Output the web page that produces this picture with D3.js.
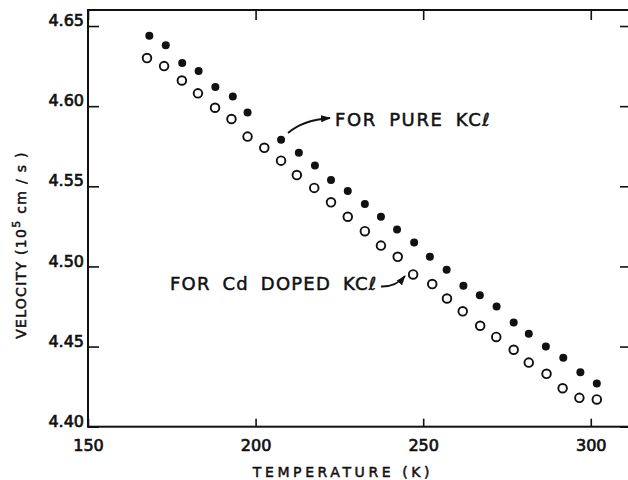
<!DOCTYPE html>
<html>
<head>
<meta charset="utf-8">
<script src="https://cdnjs.cloudflare.com/ajax/libs/d3/7.8.5/d3.min.js"></script>
<style>
  body { margin: 0; background: #fff; }
  svg { display: block; }
  text { font-family: "DejaVu Sans", sans-serif; fill: #111; stroke: #111; stroke-width: 0.5px; }
</style>
</head>
<body>
<div id="chart"></div>
<script>
// temperature (K) and velocity (10^5 cm/s)
const pureT = [168.3, 173.2, 178.1, 183.0, 188.0, 193.2, 197.6, 207.6, 212.9, 217.7, 222.5, 227.5, 232.6, 237.4, 242.2, 247.3, 252.0, 257.0, 262.0, 266.9, 271.9, 277.0, 281.5, 286.6, 291.8, 296.9, 301.8];
const pureV = [4.644, 4.638, 4.627, 4.622, 4.612, 4.606, 4.596, 4.579, 4.571, 4.563, 4.554, 4.547, 4.539, 4.531, 4.523, 4.515, 4.506, 4.498, 4.488, 4.482, 4.475, 4.465, 4.458, 4.450, 4.443, 4.434, 4.427];
const dopedT = [167.6, 172.7, 178.0, 182.8, 187.9, 192.8, 197.6, 202.6, 207.6, 212.3, 217.5, 222.5, 227.5, 232.6, 237.4, 242.4, 247.0, 252.7, 257.1, 261.8, 267.0, 271.8, 277.0, 281.5, 286.8, 291.6, 296.6, 301.8];
const dopedV = [4.630, 4.625, 4.616, 4.608, 4.599, 4.592, 4.581, 4.574, 4.566, 4.557, 4.549, 4.540, 4.531, 4.522, 4.513, 4.506, 4.495, 4.489, 4.480, 4.472, 4.463, 4.456, 4.448, 4.440, 4.433, 4.424, 4.418, 4.417];
const xTicks = [150, 200, 250, 300];
const yTicks = [4.40, 4.45, 4.50, 4.55, 4.60, 4.65];

const W = 628, H = 480;
const mLeft = 88, mRight = 631, mTop = 10, mBottom = 426.7;
const ink = "#111";

const svg = d3.select("#chart").append("svg")
    .attr("width", W)
    .attr("height", H);

const x = d3.scaleLinear().domain([150, 312]).range([mLeft, mRight]);
const y = d3.scaleLinear().domain([4.40, 4.66]).range([mBottom, mTop]);

svg.append("defs").append("marker")
    .attr("id", "head")
    .attr("viewBox", "0 0 10 8")
    .attr("refX", 9).attr("refY", 4)
    .attr("markerWidth", 10).attr("markerHeight", 8)
    .attr("markerUnits", "userSpaceOnUse")
    .attr("orient", "auto")
    .append("path").attr("d", "M0,0.5 L10,4 L0,7.5 Z").attr("fill", ink);

function styleAxis(g) {
    g.select(".domain").remove();
    g.selectAll("line").attr("stroke", ink).attr("stroke-width", 1.6);
    g.selectAll("text").attr("font-size", 16).attr("fill", ink).style("stroke-width", "0.7px");
}

// frame
svg.append("rect")
    .attr("x", mLeft).attr("y", mTop)
    .attr("width", mRight - mLeft).attr("height", mBottom - mTop)
    .attr("fill", "none").attr("stroke", ink).attr("stroke-width", 2);

svg.append("g").attr("transform", `translate(0,${mBottom})`)
    .call(d3.axisBottom(x).tickValues(xTicks).tickSize(-8).tickPadding(13).tickFormat(d3.format("d")))
    .call(styleAxis);
svg.append("g").attr("transform", `translate(0,${mTop})`)
    .call(d3.axisTop(x).tickValues(xTicks).tickSize(-10).tickFormat(""))
    .call(styleAxis);
svg.append("g").attr("transform", `translate(${mLeft},0)`)
    .call(d3.axisLeft(y).tickValues(yTicks).tickSize(-11).tickPadding(4).tickFormat(d3.format(".2f")))
    .call(styleAxis)
    .call(g => g.selectAll("text").attr("dy", "-0.02em"));
svg.append("g").attr("transform", `translate(${mRight},0)`)
    .call(d3.axisRight(y).tickValues(yTicks).tickSize(-11).tickFormat(""))
    .call(styleAxis);

// points
svg.append("g").selectAll("circle")
    .data(dopedT.map((t, i) => [t, dopedV[i]]))
    .join("circle")
    .attr("cx", d => x(d[0])).attr("cy", d => y(d[1]))
    .attr("r", 4.3)
    .attr("fill", "#fff").attr("stroke", ink).attr("stroke-width", 1.9);

svg.append("g").selectAll("circle")
    .data(pureT.map((t, i) => [t, pureV[i]]))
    .join("circle")
    .attr("cx", d => x(d[0])).attr("cy", d => y(d[1]))
    .attr("r", 4)
    .attr("fill", ink);

// annotations
svg.append("path")
    .attr("d", "M288,133 Q303,120 330,118")
    .attr("fill", "none").attr("stroke", ink).attr("stroke-width", 1.8)
    .attr("marker-end", "url(#head)");
svg.append("text")
    .attr("x", 335).attr("y", 126)
    .attr("font-size", 18).attr("letter-spacing", 1.6).attr("word-spacing", 5)
    .text("FOR PURE KCℓ");

svg.append("path")
    .attr("d", "M381,286.5 Q396,287 405,276")
    .attr("fill", "none").attr("stroke", ink).attr("stroke-width", 1.8)
    .attr("marker-end", "url(#head)");
svg.append("text")
    .attr("x", 170).attr("y", 290)
    .attr("font-size", 18).attr("letter-spacing", 1.2).attr("word-spacing", 5)
    .text("FOR Cd DOPED KCℓ");

// axis titles
svg.append("text")
    .attr("x", 343).attr("y", 477)
    .attr("text-anchor", "middle")
    .attr("font-size", 14).attr("letter-spacing", 3.6)
    .text("TEMPERATURE (K)");

const yl = svg.append("text")
    .attr("transform", "translate(26,245) rotate(-90)")
    .attr("text-anchor", "middle")
    .attr("font-size", 14).attr("letter-spacing", 1.3);
yl.append("tspan").text("VELOCITY (10");
yl.append("tspan").attr("dy", -6).attr("font-size", 11).text("5");
yl.append("tspan").attr("dy", 6).text(" cm / s )");
</script>
</body>
</html>
